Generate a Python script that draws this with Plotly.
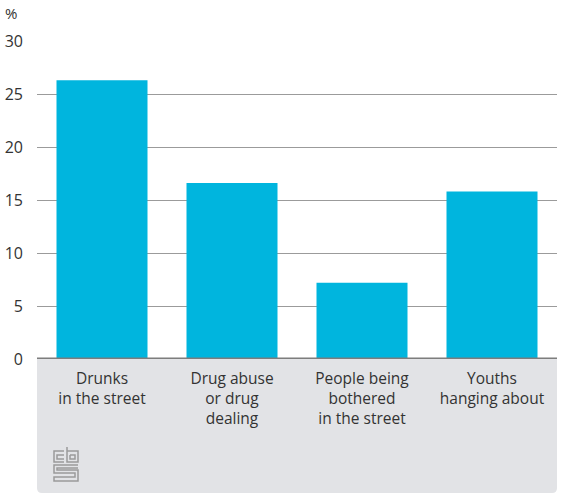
import plotly.graph_objects as go

categories = ["Drunks<br>in the street", "Drug abuse<br>or drug<br>dealing",
              "People being<br>bothered<br>in the street", "Youths<br>hanging about"]
values = [26.3, 16.6, 7.2, 15.8]
y_ticks = [0, 5, 10, 15, 20, 25, 30]
unit_label = "%"

W, H = 561, 495
L, R, T, B = 37, 4, 41, 136
PW, PH = W - L - R, H - T - B

def px(x):
    return (x - L) / PW

def py(y):
    return (H - B - y) / PH

FONT = "Open Sans"
fig = go.Figure()
fig.add_trace(go.Bar(x=list(range(len(categories))), y=values,
                     marker=dict(color="#00b5de", line=dict(width=0)),
                     hoverinfo="skip"))

shapes = []
# gray label box with rounded bottom corners
r = 5
x0, x1 = px(37), px(557)
y0, y1 = py(359), py(493)
rx, ry = r / PW, r / PH
path = (f"M {x0},{y0} L {x1},{y0} L {x1},{y1+ry} Q {x1},{y1} {x1-rx},{y1} "
        f"L {x0+rx},{y1} Q {x0},{y1} {x0},{y1+ry} Z")
shapes.append(dict(type="path", xref="paper", yref="paper", path=path,
                   fillcolor="#e2e3e6", line=dict(width=0), layer="below"))
# baseline
shapes.append(dict(type="line", xref="paper", yref="y", x0=0, x1=1, y0=0, y1=0,
                   line=dict(color="#7d7d7d", width=3)))

# logo (approximate strokes)
def P(pts):
    return "M " + " L ".join(f"{px(a)},{py(b)}" for a, b in pts)

logo_paths = [
    [(64, 451), (54, 451), (54, 462), (64, 462)],
    [(64, 455), (57, 455), (57, 459), (64, 459)],
    [(67, 447), (67, 462), (78, 462), (78, 451), (67, 451)],
    [(70, 455), (75, 455), (75, 459), (70, 459), (70, 455)],
    [(78, 465), (54, 465), (54, 473), (75, 473), (75, 477), (54, 477), (54, 481), (78, 481), (78, 470), (57, 470), (57, 468), (78, 468)],
]
for pts in logo_paths:
    shapes.append(dict(type="path", xref="paper", yref="paper", path=P(pts),
                       line=dict(color="#9a9a9a", width=1.5)))

fig.update_layout(
    width=W, height=H,
    margin=dict(l=L, r=R, t=T, b=B),
    paper_bgcolor="white", plot_bgcolor="white",
    showlegend=False, bargap=0.3,
    font=dict(family=FONT, color="#333333", size=16),
    xaxis=dict(tickvals=list(range(len(categories))), ticktext=categories,
               range=[-0.5, len(categories) - 0.5], showgrid=False,
               showline=False, zeroline=False, ticks="", ticklabelstandoff=8,
               tickfont=dict(size=15.5, color="#333333", family=FONT)),
    yaxis=dict(range=[0, 30], tickvals=y_ticks, showgrid=True,
               gridcolor="#9b9b9b", gridwidth=1, zeroline=False,
               showline=False, ticks="", ticklabelstandoff=13,
               tickfont=dict(size=16, color="#333333", family=FONT)),
    shapes=shapes,
    annotations=[dict(text=unit_label, xref="paper", yref="paper",
                      x=px(3), y=py(13), xanchor="left", yanchor="middle",
                      showarrow=False, font=dict(size=15, color="#333333", family=FONT))],
)
fig.write_html("out.html", config={"displayModeBar": False},
               post_script="document.body.style.margin='0';document.body.style.padding='0';document.body.style.overflow='hidden';")
